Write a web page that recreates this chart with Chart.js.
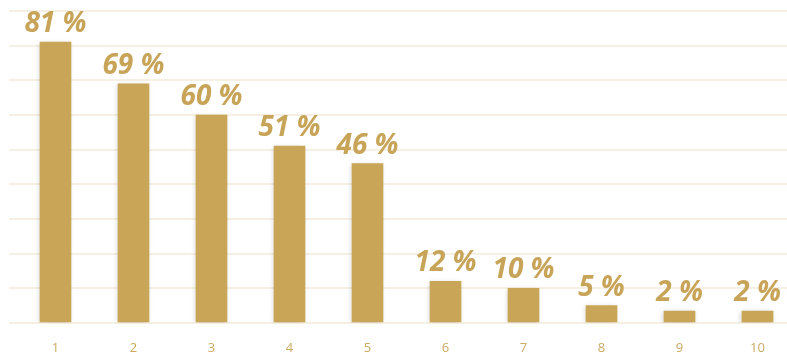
<!DOCTYPE html>
<html>
<head>
<meta charset="utf-8">
<script src="https://cdn.jsdelivr.net/npm/chart.js@4/dist/chart.umd.min.js"></script>
<style>
  html, body { margin: 0; padding: 0; background: #ffffff; }
  #wrap { width: 787px; height: 353px; position: relative; }
</style>
</head>
<body>
<div id="wrap"><canvas id="c" width="787" height="353"></canvas></div>
<script>
const categories = ['1', '2', '3', '4', '5', '6', '7', '8', '9', '10'];
const percentValues = [81, 69, 60, 51, 46, 12, 10, 5, 2, 2];
const yTickMax = 90;
const yTickStep = 10;

const GOLD = '#c9a657';
const LABEL_GOLD = '#c8a458';
const TICK_GOLD = '#cdaa62';
const GRID = '#f6f0e4';

const points = categories.map((c, i) => ({ x: i + 1, y: percentValues[i] }));

const shadowPlugin = {
  id: 'barShadow',
  beforeDatasetsDraw(chart) {
    const ctx = chart.ctx;
    ctx.save();
    ctx.shadowColor = 'rgba(0,0,0,0.18)';
    ctx.shadowBlur = 5;
    ctx.shadowOffsetX = -1;
    ctx.shadowOffsetY = 1;
  },
  afterDatasetsDraw(chart) {
    chart.ctx.restore();
  }
};

const valueLabelPlugin = {
  id: 'valueLabels',
  afterDraw(chart) {
    const ctx = chart.ctx;
    const meta = chart.getDatasetMeta(0);
    ctx.save();
    ctx.fillStyle = LABEL_GOLD;
    ctx.font = 'italic 700 28px "Open Sans"';
    ctx.textAlign = 'center';
    ctx.textBaseline = 'alphabetic';
    meta.data.forEach((bar, i) => {
      ctx.fillText(percentValues[i] + ' %', bar.x, bar.y - 10);
    });
    ctx.restore();
  }
};

new Chart(document.getElementById('c'), {
  type: 'bar',
  data: {
    datasets: [{
      data: points,
      backgroundColor: GOLD,
      borderWidth: 0,
      barThickness: 31,
      minBarLength: 12
    }]
  },
  options: {
    responsive: false,
    animation: false,
    events: [],
    layout: { padding: { top: 11, left: 9, right: 0, bottom: 0 } },
    plugins: { legend: { display: false }, tooltip: { enabled: false } },
    scales: {
      x: {
        type: 'linear',
        offset: false,
        min: 0.404,
        max: 10.378,
        grid: { display: false, drawTicks: false },
        border: { display: false },
        afterFit: (scale) => { scale.height = 30; },
        ticks: {
          stepSize: 1,
          includeBounds: false,
          autoSkip: false,
          maxRotation: 0,
          padding: 17,
          color: TICK_GOLD,
          font: { family: '"Open Sans"', size: 13 },
          callback: (v) => categories[v - 1] ?? ''
        }
      },
      y: {
        min: 0,
        max: yTickMax,
        grid: { color: GRID, lineWidth: 2, drawTicks: false },
        border: { display: false },
        ticks: { display: false, stepSize: yTickStep }
      }
    }
  },
  plugins: [shadowPlugin, valueLabelPlugin]
});
</script>
</body>
</html>
